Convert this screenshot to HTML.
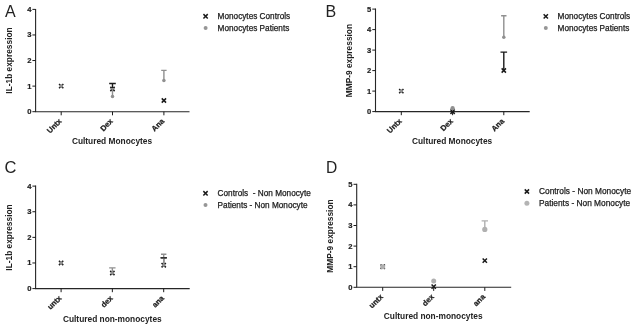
<!DOCTYPE html>
<html><head><meta charset="utf-8"><title>Figure</title>
<style>
html,body{margin:0;padding:0;background:#fff}
svg{display:block}
text{font-family:"Liberation Sans",Arial,sans-serif;fill:#222}
.tk{font-size:7.6px;font-weight:bold;stroke:#222;stroke-width:0.2px}
.xl{font-size:7.7px;font-weight:bold;fill:#222;stroke:#222;stroke-width:0.25px}
.ti{font-size:8.35px;font-weight:bold}
.lg{fill:#1c1c1c;stroke:#1c1c1c;stroke-width:0.25px}
.lt{fill:#222}
</style></head><body>
<svg width="636" height="328" viewBox="0 0 636 328">
<rect width="636" height="328" fill="#fff"/>
<path d="M35.6 8.88V111.7H189.5" stroke="#262626" stroke-width="1.1" fill="none"/>
<path d="M32.40 111.70H35.6" stroke="#1a1a1a" stroke-width="1"/>
<text x="31.40" y="114.10" text-anchor="end" class="tk">0</text>
<path d="M32.40 86.12H35.6" stroke="#1a1a1a" stroke-width="1"/>
<text x="31.40" y="88.52" text-anchor="end" class="tk">1</text>
<path d="M32.40 60.54H35.6" stroke="#1a1a1a" stroke-width="1"/>
<text x="31.40" y="62.94" text-anchor="end" class="tk">2</text>
<path d="M32.40 34.96H35.6" stroke="#1a1a1a" stroke-width="1"/>
<text x="31.40" y="37.36" text-anchor="end" class="tk">3</text>
<path d="M32.40 9.38H35.6" stroke="#1a1a1a" stroke-width="1"/>
<text x="31.40" y="11.78" text-anchor="end" class="tk">4</text>
<path d="M61.20 111.7V115.30" stroke="#1a1a1a" stroke-width="1"/>
<text transform="translate(62.10 121.70) rotate(-45)" text-anchor="end" class="xl">Untx</text>
<path d="M112.50 111.7V115.30" stroke="#1a1a1a" stroke-width="1"/>
<text transform="translate(113.40 121.70) rotate(-45)" text-anchor="end" class="xl">Dex</text>
<path d="M163.90 111.7V115.30" stroke="#1a1a1a" stroke-width="1"/>
<text transform="translate(164.80 121.70) rotate(-45)" text-anchor="end" class="xl">Ana</text>
<text x="112.00" y="143.80" text-anchor="middle" class="ti">Cultured Monocytes</text>
<text transform="translate(12.00 60.50) rotate(-90)" text-anchor="middle" class="ti">IL-1b expression</text>
<text x="5.1" y="16.9" class="lt" font-size="16">A</text>
<path d="M203.45 14.15L207.75 18.45M203.45 18.45L207.75 14.15" stroke="#1a1a1a" stroke-width="1.5" fill="none"/>
<circle cx="205.60" cy="27.95" r="2.0" fill="#969696"/>
<text x="217.6" y="19.00" class="lg" font-size="8.22">Monocytes Controls</text>
<text x="217.6" y="30.65" class="lg" font-size="8.22">Monocytes Patients</text>
<path d="M59.05 83.97L63.35 88.27M59.05 88.27L63.35 83.97" stroke="#1a1a1a" stroke-width="1.5" fill="none"/>
<circle cx="61.20" cy="86.12" r="1.75" fill="#909090"/>
<path d="M112.50 89.00V83.50M109.20 83.50H115.80" stroke="#1a1a1a" stroke-width="1.4" fill="none"/>
<path d="M110.35 86.85L114.65 91.15M110.35 91.15L114.65 86.85" stroke="#1a1a1a" stroke-width="1.5" fill="none"/>
<path d="M112.50 96.40V88.70M110.30 88.70H114.70" stroke="#909090" stroke-width="1.4" fill="none"/>
<circle cx="112.50" cy="96.40" r="1.75" fill="#909090"/>
<path d="M163.90 80.50V70.40M161.20 70.40H166.60" stroke="#909090" stroke-width="1.4" fill="none"/>
<circle cx="163.90" cy="80.50" r="1.75" fill="#909090"/>
<path d="M161.75 98.35L166.05 102.65M161.75 102.65L166.05 98.35" stroke="#1a1a1a" stroke-width="1.5" fill="none"/>
<path d="M375.5 8.60V111.6H529.7" stroke="#262626" stroke-width="1.1" fill="none"/>
<path d="M372.30 111.60H375.5" stroke="#1a1a1a" stroke-width="1"/>
<text x="371.30" y="114.00" text-anchor="end" class="tk">0</text>
<path d="M372.30 91.10H375.5" stroke="#1a1a1a" stroke-width="1"/>
<text x="371.30" y="93.50" text-anchor="end" class="tk">1</text>
<path d="M372.30 70.60H375.5" stroke="#1a1a1a" stroke-width="1"/>
<text x="371.30" y="73.00" text-anchor="end" class="tk">2</text>
<path d="M372.30 50.10H375.5" stroke="#1a1a1a" stroke-width="1"/>
<text x="371.30" y="52.50" text-anchor="end" class="tk">3</text>
<path d="M372.30 29.60H375.5" stroke="#1a1a1a" stroke-width="1"/>
<text x="371.30" y="32.00" text-anchor="end" class="tk">4</text>
<path d="M372.30 9.10H375.5" stroke="#1a1a1a" stroke-width="1"/>
<text x="371.30" y="11.50" text-anchor="end" class="tk">5</text>
<path d="M401.30 111.6V115.20" stroke="#1a1a1a" stroke-width="1"/>
<text transform="translate(402.20 121.60) rotate(-45)" text-anchor="end" class="xl">Untx</text>
<path d="M452.60 111.6V115.20" stroke="#1a1a1a" stroke-width="1"/>
<text transform="translate(453.50 121.60) rotate(-45)" text-anchor="end" class="xl">Dex</text>
<path d="M503.80 111.6V115.20" stroke="#1a1a1a" stroke-width="1"/>
<text transform="translate(504.70 121.60) rotate(-45)" text-anchor="end" class="xl">Ana</text>
<text x="452.10" y="144.00" text-anchor="middle" class="ti">Cultured Monocytes</text>
<text transform="translate(351.50 60.60) rotate(-90)" text-anchor="middle" class="ti">MMP-9 expression</text>
<text x="325.6" y="16.9" class="lt" font-size="16">B</text>
<path d="M543.65 14.25L547.95 18.55M543.65 18.55L547.95 14.25" stroke="#1a1a1a" stroke-width="1.5" fill="none"/>
<circle cx="545.80" cy="28.05" r="2.0" fill="#969696"/>
<text x="557.6" y="19.10" class="lg" font-size="8.22">Monocytes Controls</text>
<text x="557.6" y="30.75" class="lg" font-size="8.22">Monocytes Patients</text>
<path d="M399.15 88.95L403.45 93.25M399.15 93.25L403.45 88.95" stroke="#1a1a1a" stroke-width="1.5" fill="none"/>
<circle cx="401.30" cy="91.10" r="1.75" fill="#909090"/>
<path d="M450.45 109.55L454.75 113.85M450.45 113.85L454.75 109.55" stroke="#1a1a1a" stroke-width="1.5" fill="none"/>
<circle cx="452.60" cy="108.20" r="2.15" fill="#909090"/>
<path d="M503.80 37.30V15.70M501.10 15.70H506.50" stroke="#909090" stroke-width="1.4" fill="none"/>
<circle cx="503.80" cy="37.30" r="1.75" fill="#909090"/>
<path d="M503.80 70.50V52.10M500.50 52.10H507.10" stroke="#1a1a1a" stroke-width="1.4" fill="none"/>
<path d="M501.65 68.35L505.95 72.65M501.65 72.65L505.95 68.35" stroke="#1a1a1a" stroke-width="1.5" fill="none"/>
<path d="M35.6 185.62V288.6H189.7" stroke="#262626" stroke-width="1.1" fill="none"/>
<path d="M32.40 288.60H35.6" stroke="#1a1a1a" stroke-width="1"/>
<text x="31.40" y="291.00" text-anchor="end" class="tk">0</text>
<path d="M32.40 262.98H35.6" stroke="#1a1a1a" stroke-width="1"/>
<text x="31.40" y="265.38" text-anchor="end" class="tk">1</text>
<path d="M32.40 237.36H35.6" stroke="#1a1a1a" stroke-width="1"/>
<text x="31.40" y="239.76" text-anchor="end" class="tk">2</text>
<path d="M32.40 211.74H35.6" stroke="#1a1a1a" stroke-width="1"/>
<text x="31.40" y="214.14" text-anchor="end" class="tk">3</text>
<path d="M32.40 186.12H35.6" stroke="#1a1a1a" stroke-width="1"/>
<text x="31.40" y="188.52" text-anchor="end" class="tk">4</text>
<path d="M61.10 288.6V292.20" stroke="#1a1a1a" stroke-width="1"/>
<text transform="translate(62.00 298.60) rotate(-45)" text-anchor="end" class="xl">untx</text>
<path d="M112.35 288.6V292.20" stroke="#1a1a1a" stroke-width="1"/>
<text transform="translate(113.25 298.60) rotate(-45)" text-anchor="end" class="xl">dex</text>
<path d="M163.70 288.6V292.20" stroke="#1a1a1a" stroke-width="1"/>
<text transform="translate(164.60 298.60) rotate(-45)" text-anchor="end" class="xl">ana</text>
<text x="112.30" y="321.70" text-anchor="middle" class="ti">Cultured non-monocytes</text>
<text transform="translate(12.00 237.50) rotate(-90)" text-anchor="middle" class="ti">IL-1b expression</text>
<text x="4.6" y="173.1" class="lt" font-size="16.5">C</text>
<path d="M203.35 191.15L207.65 195.45M203.35 195.45L207.65 191.15" stroke="#1a1a1a" stroke-width="1.5" fill="none"/>
<circle cx="205.50" cy="205.10" r="2.0" fill="#969696"/>
<text x="217.6" y="196.00" class="lg" font-size="8.22">Controls &#160;- Non Monocyte</text>
<text x="217.6" y="207.80" class="lg" font-size="8.22">Patients - Non Monocyte</text>
<path d="M58.95 260.83L63.25 265.13M58.95 265.13L63.25 260.83" stroke="#1a1a1a" stroke-width="1.5" fill="none"/>
<circle cx="61.10" cy="262.98" r="1.75" fill="#909090"/>
<path d="M110.20 270.85L114.50 275.15M110.20 275.15L114.50 270.85" stroke="#1a1a1a" stroke-width="1.5" fill="none"/>
<path d="M112.35 273.00V267.90M109.15 267.90H115.55" stroke="#909090" stroke-width="1.4" fill="none"/>
<circle cx="112.35" cy="273.00" r="1.75" fill="#909090"/>
<path d="M163.70 265.20V257.80M161.00 257.80H166.40" stroke="#333" stroke-width="1.4" fill="none"/>
<path d="M161.55 263.05L165.85 267.35M161.55 267.35L165.85 263.05" stroke="#1a1a1a" stroke-width="1.5" fill="none"/>
<path d="M163.70 265.20V254.20M161.00 254.20H166.40" stroke="#909090" stroke-width="1.4" fill="none"/>
<circle cx="163.70" cy="265.20" r="1.6" fill="#909090"/>
<path d="M160.40 257.80H167.00" stroke="#333" stroke-width="1.5" fill="none"/>
<path d="M356.7 183.80V287.3H511.2" stroke="#262626" stroke-width="1.1" fill="none"/>
<path d="M353.50 287.30H356.7" stroke="#1a1a1a" stroke-width="1"/>
<text x="352.50" y="289.70" text-anchor="end" class="tk">0</text>
<path d="M353.50 266.70H356.7" stroke="#1a1a1a" stroke-width="1"/>
<text x="352.50" y="269.10" text-anchor="end" class="tk">1</text>
<path d="M353.50 246.10H356.7" stroke="#1a1a1a" stroke-width="1"/>
<text x="352.50" y="248.50" text-anchor="end" class="tk">2</text>
<path d="M353.50 225.50H356.7" stroke="#1a1a1a" stroke-width="1"/>
<text x="352.50" y="227.90" text-anchor="end" class="tk">3</text>
<path d="M353.50 204.90H356.7" stroke="#1a1a1a" stroke-width="1"/>
<text x="352.50" y="207.30" text-anchor="end" class="tk">4</text>
<path d="M353.50 184.30H356.7" stroke="#1a1a1a" stroke-width="1"/>
<text x="352.50" y="186.70" text-anchor="end" class="tk">5</text>
<path d="M382.70 287.3V290.90" stroke="#1a1a1a" stroke-width="1"/>
<text transform="translate(383.60 297.30) rotate(-45)" text-anchor="end" class="xl">untx</text>
<path d="M433.70 287.3V290.90" stroke="#1a1a1a" stroke-width="1"/>
<text transform="translate(434.60 297.30) rotate(-45)" text-anchor="end" class="xl">dex</text>
<path d="M484.80 287.3V290.90" stroke="#1a1a1a" stroke-width="1"/>
<text transform="translate(485.70 297.30) rotate(-45)" text-anchor="end" class="xl">ana</text>
<text x="433.20" y="319.20" text-anchor="middle" class="ti">Cultured non-monocytes</text>
<text transform="translate(333.00 236.00) rotate(-90)" text-anchor="middle" class="ti">MMP-9 expression</text>
<text x="326.0" y="172.6" class="lt" font-size="15.6">D</text>
<path d="M524.75 189.35L529.05 193.65M524.75 193.65L529.05 189.35" stroke="#1a1a1a" stroke-width="1.5" fill="none"/>
<circle cx="526.90" cy="203.20" r="2.5" fill="#b4b4b4"/>
<text x="539" y="194.20" class="lg" font-size="8.34">Controls - Non Monocyte</text>
<text x="539" y="205.90" class="lg" font-size="8.34">Patients - Non Monocyte</text>
<path d="M380.55 264.55L384.85 268.85M380.55 268.85L384.85 264.55" stroke="#1a1a1a" stroke-width="1.5" fill="none"/>
<circle cx="382.70" cy="266.70" r="2.5" fill="#b0b0b0"/>
<circle cx="433.70" cy="281.10" r="2.5" fill="#b0b0b0"/>
<path d="M431.55 284.45L435.85 288.75M431.55 288.75L435.85 284.45" stroke="#1a1a1a" stroke-width="1.5" fill="none"/>
<path d="M484.80 229.40V220.90M481.60 220.90H488.00" stroke="#b0b0b0" stroke-width="1.4" fill="none"/>
<circle cx="484.80" cy="229.40" r="2.6" fill="#b0b0b0"/>
<path d="M482.65 258.45L486.95 262.75M482.65 262.75L486.95 258.45" stroke="#1a1a1a" stroke-width="1.5" fill="none"/>
</svg>
</body></html>
